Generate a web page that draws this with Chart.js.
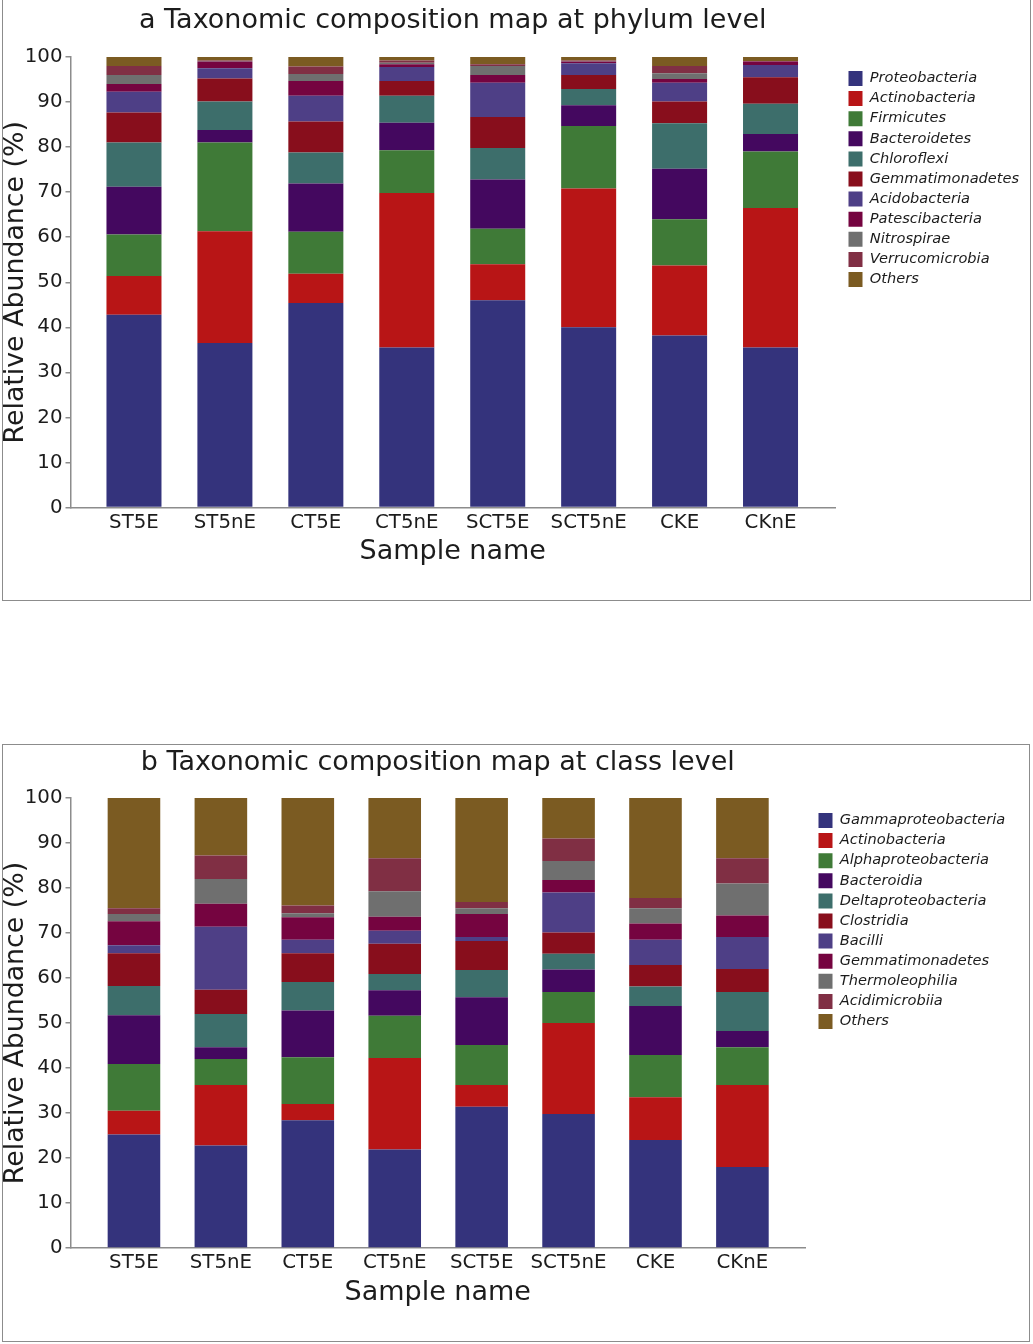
<!DOCTYPE html>
<html><head><meta charset="utf-8">
<style>
html,body{margin:0;padding:0;background:#fff;overflow:hidden}
body{width:1033px;height:1344px;position:relative}
.panel{position:absolute;box-sizing:border-box;border:1.5px solid #8c8c8c}
#pa{left:2px;top:-4px;width:1029px;height:605px}
#pb{left:2px;top:744px;width:1028px;height:598px}
canvas{position:absolute;left:0}
#ca{top:0}
#cb{top:742px}
</style>
<script src="https://cdn.jsdelivr.net/npm/chart.js@4/dist/chart.umd.min.js"></script>
</head><body>
<div class="panel" id="pa"></div><div class="panel" id="pb"></div>
<canvas id="ca" width="1033" height="600"></canvas>
<canvas id="cb" width="1033" height="600"></canvas>
<script>
const categories=["ST5E","ST5nE","CT5E","CT5nE","SCT5E","SCT5nE","CKE","CKnE"];
const yTicks=[0,10,20,30,40,50,60,70,80,90,100];
const colors=["#34337c","#b81516","#3f7a37","#44085f","#3d6e6b","#880e1c","#4e3f86","#750440","#6f6f6f","#802f44","#7b5b22"];

const phylumNames=["Proteobacteria","Actinobacteria","Firmicutes","Bacteroidetes","Chloroflexi","Gemmatimonadetes","Acidobacteria","Patescibacteria","Nitrospirae","Verrucomicrobia","Others"];
const proteobacteria=[42.8,36.5,45.4,35.5,46.0,40.0,38.2,35.5];
const actinobacteria=[8.6,24.8,6.5,34.3,8.0,30.8,15.5,31.0];
const firmicutes=[9.2,19.7,9.3,9.5,7.9,13.9,10.3,12.5];
const bacteroidetes=[10.6,2.8,10.7,6.1,10.9,4.6,11.2,3.9];
const chloroflexi=[9.8,6.3,6.9,6.0,7.0,3.6,10.1,6.7];
const gemmatimonadetesP=[6.7,5.1,6.9,3.3,6.9,3.1,4.8,5.9];
const acidobacteria=[4.6,2.3,5.7,3.1,7.6,2.6,4.2,2.7];
const patescibacteria=[1.7,1.5,3.3,0.6,1.7,0.4,0.8,0.8];
const nitrospirae=[2.0,0.1,1.5,0.3,2.0,0.1,1.3,0.0];
const verrucomicrobia=[2.0,0.1,1.7,0.5,0.4,0.1,1.6,0.1];
const othersP=[2.0,0.8,2.1,0.8,1.6,0.8,2.0,0.9];
const phylumSeries=[proteobacteria,actinobacteria,firmicutes,bacteroidetes,chloroflexi,gemmatimonadetesP,acidobacteria,patescibacteria,nitrospirae,verrucomicrobia,othersP];

const classNames=["Gammaproteobacteria","Actinobacteria","Alphaproteobacteria","Bacteroidia","Deltaproteobacteria","Clostridia","Bacilli","Gemmatimonadetes","Thermoleophilia","Acidimicrobiia","Others"];
const gammaproteobacteria=[25.2,22.8,28.4,21.9,31.4,29.8,24.0,18.0];
const actinobacteriaC=[5.3,13.4,3.6,20.3,4.8,20.2,9.5,18.2];
const alphaproteobacteria=[10.4,5.8,10.4,9.4,8.9,6.9,9.4,8.4];
const bacteroidia=[10.8,2.6,10.4,5.7,10.6,5.0,10.9,3.6];
const deltaproteobacteria=[6.5,7.4,6.3,3.6,6.1,3.5,4.3,8.7];
const clostridia=[7.3,5.4,6.4,6.7,6.4,4.7,4.8,5.1];
const bacilli=[1.8,14.0,3.0,2.9,0.9,8.9,5.6,7.1];
const gemmatimonadetesC=[5.3,5.1,5.0,3.1,5.1,2.8,3.6,4.8];
const thermoleophilia=[1.6,5.5,0.9,5.7,1.3,4.2,3.4,7.1];
const acidimicrobiia=[1.3,5.2,1.7,7.3,1.4,5.0,2.3,5.6];
const othersC=[24.5,12.8,23.9,13.4,23.1,9.0,22.2,13.4];
const classSeries=[gammaproteobacteria,actinobacteriaC,alphaproteobacteria,bacteroidia,deltaproteobacteria,clostridia,bacilli,gemmatimonadetesC,thermoleophilia,acidimicrobiia,othersC];

const FONT='"DejaVu Sans"';
const INK='#1c1c1c', AXIS='#8c8c8c';
const X_AXIS_HEIGHT=61;

function makeChart(id,titleText,names,series,cfg){
  const legendMover={id:'legendMover',afterLayout(chart){
    const l=chart.legend,p=l.options.labels.padding;
    const w=l.width,h=l.height;
    l.left=cfg.legendX-p; l.right=l.left+w;
    l.top=cfg.legendY-p; l.bottom=l.top+h;
  }};
  return new Chart(document.getElementById(id),{
    type:'bar',
    data:{datasets:names.map((n,k)=>({
      label:n,
      data:series[k].map((v,i)=>({x:i,y:v})),
      backgroundColor:colors[k],
      borderWidth:0,
      barPercentage:0.605,
      categoryPercentage:1
    }))},
    plugins:[legendMover],
    options:{
      responsive:false,animation:false,devicePixelRatio:1,
      layout:{padding:{left:0,top:0,right:1033-cfg.right,bottom:600-cfg.bottom-X_AXIS_HEIGHT}},
      plugins:{
        tooltip:{enabled:false},
        title:{display:true,text:titleText,fullSize:false,color:INK,
          font:{family:FONT,size:27,weight:'normal',lineHeight:1.2},
          padding:{top:cfg.titleTop,bottom:cfg.top-cfg.titleTop-32.4}},
        legend:{display:true,position:'chartArea',align:'start',
          labels:{boxWidth:14,boxHeight:15,padding:5.1,color:INK,
            font:{family:FONT,size:14.6,style:'italic'}}}
      },
      scales:{
        x:{type:'linear',offset:false,stacked:true,min:cfg.xMin,max:cfg.xMax,
          afterFit(s){s.height=X_AXIS_HEIGHT},
          afterBuildTicks(s){s.ticks=categories.map((c,i)=>({value:i}))},
          grid:{display:false,offset:false,drawTicks:false},
          border:{display:true,color:AXIS,width:1.5},
          ticks:{autoSkip:false,maxRotation:0,minRotation:0,includeBounds:false,padding:3,color:INK,
            font:{family:FONT,size:19.8},
            callback:(v)=>categories[v]},
          title:{display:true,text:'Sample name',color:INK,
            font:{family:FONT,size:27,weight:'normal'},padding:{top:0,bottom:0}}},
        y:{stacked:true,min:0,max:100,
          afterFit(s){s.width=70.5},
          afterBuildTicks(s){s.ticks=yTicks.map(v=>({value:v}))},
          grid:{display:true,drawOnChartArea:false,drawTicks:true,tickLength:5,color:AXIS,lineWidth:1.5},
          border:{display:true,color:AXIS,width:1.5},
          ticks:{padding:3,color:INK,font:{family:FONT,size:19.8}},
          title:{display:true,text:'Relative Abundance (%)',color:INK,
            font:{family:FONT,size:26.8,weight:'normal'},padding:{top:0,bottom:0}}}
      }
    }
  });
}
makeChart('ca','a Taxonomic composition map at phylum level',phylumNames,phylumSeries,
  {top:57,bottom:507.5,right:835,titleTop:5,xMin:-0.698,xMax:7.709,legendX:848.5,legendY:71});
makeChart('cb','b Taxonomic composition map at class level',classNames,classSeries,
  {top:56,bottom:506,right:805,titleTop:5,xMin:-0.73,xMax:7.72,legendX:818.5,legendY:71});
</script>
</body></html>
